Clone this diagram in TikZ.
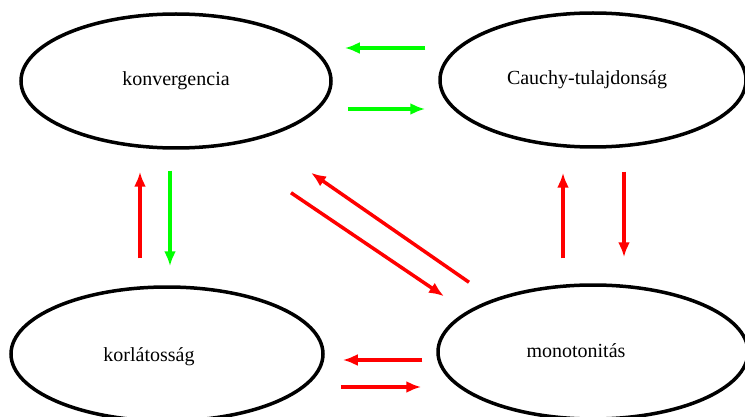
\documentclass[tikz,border=0pt]{standalone}
\usepackage{fontspec}
\setmainfont{Liberation Serif}
\usetikzlibrary{arrows.meta, shapes.geometric}

\definecolor{arrred}{RGB}{255,0,0}
\definecolor{arrgreen}{RGB}{0,255,0}

\tikzset{
  prop/.style={draw, ellipse, line width=3.5pt, inner sep=0pt,
    minimum width=310pt, minimum height=134pt,
    font=\fontsize{20}{24}\selectfont},
  imp/.style={line width=3.5pt, -{Latex[length=15pt,width=12pt]}},
}

\begin{document}
\begin{tikzpicture}[x=1pt, y=-1pt]
      \useasboundingbox (0,0) rectangle (745,417);

      \node[prop] (konv) at (176,81) {konvergencia};
      \node[prop, minimum width=306pt, label={[font=\fontsize{20}{24}\selectfont, xshift=-6pt]center:Cauchy-tulajdonság}] (cauchy) at (593,80) {};
      \node[prop, minimum width=312pt, label={[font=\fontsize{20}{24}\selectfont, xshift=-18pt, yshift=-3pt]center:korlátosság}] (korl) at (167,354) {};
      \node[prop, label={[font=\fontsize{20}{24}\selectfont, xshift=-17pt, yshift=1pt]center:monotonitás}] (mono) at (593,352) {};

      % konvergencia <-> Cauchy
      \draw[imp, arrgreen] ([xshift=-13pt, yshift=32pt]cauchy.west) -- ([xshift=12pt, yshift=33pt]konv.east);
      \draw[imp, arrgreen] ([xshift=15pt, yshift=-28pt]konv.east) -- ([xshift=-13pt, yshift=-29pt]cauchy.west);

      % konvergencia <-> korlatossag
      \draw[imp, arrred] ([xshift=-27pt, yshift=27pt]korl.north) -- ([xshift=-36pt, yshift=-22pt]konv.south);
      \draw[imp, arrgreen] ([xshift=-6pt, yshift=-21pt]konv.south) -- ([xshift=3pt, yshift=19pt]korl.north);

      % Cauchy <-> monotonitas
      \draw[imp, arrred] ([xshift=-30pt, yshift=25pt]mono.north) -- ([xshift=-30pt, yshift=-24pt]cauchy.south);
      \draw[imp, arrred] ([xshift=31pt, yshift=-23pt]cauchy.south) -- ([xshift=31pt, yshift=26pt]mono.north);

      % konvergencia <-> monotonitas
      \draw[imp, arrred] ([xshift=115pt, yshift=-43pt]konv.south) -- ([xshift=-149pt, yshift=-13pt]mono.north);
      \draw[imp, arrred] ([xshift=-124pt, yshift=1pt]mono.north) -- ([xshift=135pt, yshift=-23pt]konv.south);

      % korlatossag <-> monotonitas
      \draw[imp, arrred] ([xshift=-14pt, yshift=-8pt]mono.west) -- ([xshift=18pt, yshift=-6pt]korl.east);
      \draw[imp, arrred] ([xshift=16pt, yshift=-33pt]korl.east) -- ([xshift=-15pt, yshift=-35pt]mono.west);
\end{tikzpicture}
\end{document}
